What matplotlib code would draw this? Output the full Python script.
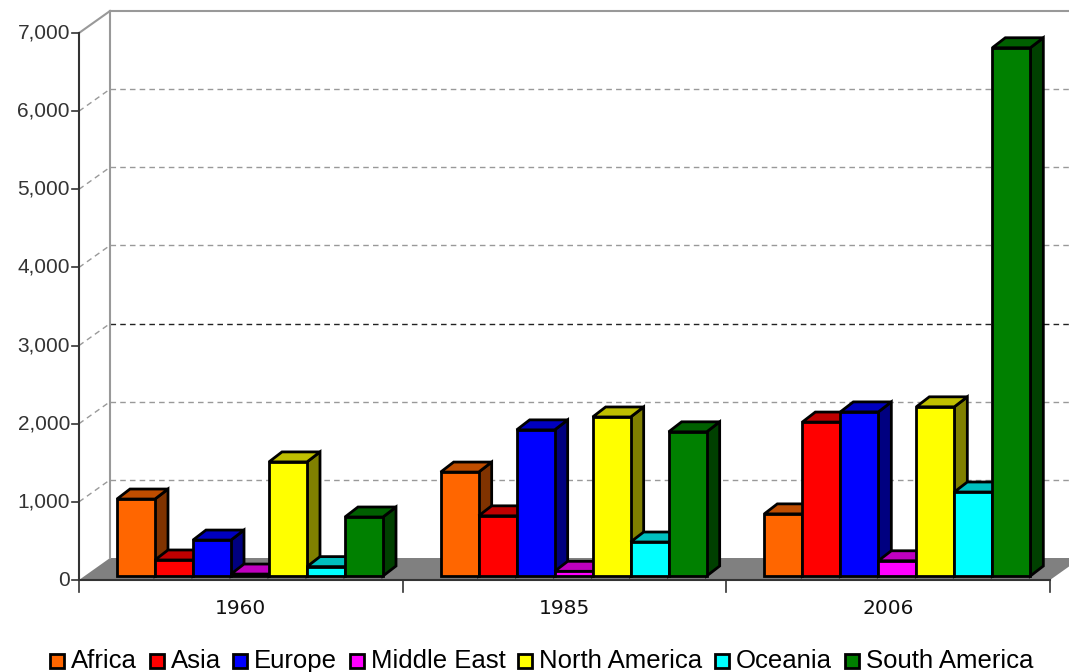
import numpy as np
import matplotlib
matplotlib.use('Agg')
import matplotlib.pyplot as plt
from matplotlib.patches import Polygon, Rectangle
from matplotlib.colors import to_rgb

years = ['1960', '1985', '2006']
regions = ['Africa', 'Asia', 'Europe', 'Middle East', 'North America', 'Oceania', 'South America']
africa = [985, 1330, 795]
asia = [205, 770, 1970]
europe = [460, 1870, 2100]
middle_east = [25, 60, 195]
north_america = [1460, 2035, 2165]
oceania = [120, 435, 1075]
south_america = [755, 1845, 6760]
series = [africa, asia, europe, middle_east, north_america, oceania, south_america]
colors = ['#FF6600', '#FF0000', '#0000FF', '#FF00FF', '#FFFF00', '#00FFFF', '#008000']
yticks = [0, 1000, 2000, 3000, 4000, 5000, 6000, 7000]

W, H = 1069, 672
fig = plt.figure(figsize=(W / 100, H / 100), dpi=100)
# front plane of the chart in pixels
left_px, right_px, bot_px, top_px = 79, 1050, 580, 33
ax = fig.add_axes([left_px / W, 1 - bot_px / H, (right_px - left_px) / W, (bot_px - top_px) / H])
ax.set_xlim(0, len(years))
ax.set_ylim(0, 7000)
ax.axis('off')

sx = (right_px - left_px) / len(years)      # px per group
sy = (bot_px - top_px) / 7000.0             # px per unit


def px_x(p):
    return p / sx


def px_y(p):
    return p / sy


# depth of the wall and of the bars
wdx, wdy = px_x(31), px_y(22)
bdx, bdy = px_x(13), px_y(10)
x_end = len(years)

# floor
ax.add_patch(Polygon([(0, 0), (x_end, 0), (x_end + wdx, wdy), (wdx, wdy)],
                     closed=True, facecolor='#808080', edgecolor='none', zorder=1, clip_on=False))

# gridlines
for t in yticks[1:]:
    c = '#222222' if t == 3000 else '#999999'
    st = (0, (4, 3))
    if t == 7000:
        ax.plot([0, wdx], [t, t + wdy], color='#999999', lw=1.5, clip_on=False, zorder=1)
        ax.plot([wdx, x_end + wdx + 0.2], [t + wdy, t + wdy], color='#999999', lw=1.5, clip_on=False, zorder=1)
    else:
        ax.plot([0, wdx], [t, t + wdy], color='#999999', lw=1.0, ls=st, clip_on=False, zorder=1)
        ax.plot([wdx, x_end + wdx + 0.2], [t + wdy, t + wdy], color=c, lw=1.0, ls=st, clip_on=False, zorder=1)

# back wall left edge
ax.plot([wdx, wdx], [wdy, 7000 + wdy], color='#999999', lw=1.5, clip_on=False, zorder=1)

# front axes
ax.plot([0, 0], [0, 7000], color='#333333', lw=1.5, clip_on=False, zorder=5)
ax.plot([0, x_end], [0, 0], color='#333333', lw=1.5, clip_on=False, zorder=5)
for t in yticks:
    ax.plot([-px_x(7), 0], [t, t], color='#333333', lw=1.2, clip_on=False, zorder=5)
    ax.text(-px_x(9), t, '{:,}'.format(t), ha='right', va='center', fontsize=15,
            family='Liberation Sans', color='#333333')
for g in range(len(years) + 1):
    ax.plot([g, g], [0, -px_y(12)], color='#333333', lw=1.2, clip_on=False, zorder=5)
for g, yr in enumerate(years):
    ax.text(g + 0.5, -px_y(28), yr, ha='center', va='center', fontsize=14.5,
            family='DejaVu Sans', color='#111111')

# bars
bw = px_x(38)
off = px_x(38)
base = px_y(4)
lw = 2.0
z = 10
for g in range(len(years)):
    for i, vals in enumerate(series):
        v = vals[g]
        rgb = np.array(to_rgb(colors[i]))
        x0 = g + off + i * bw
        x1 = x0 + bw
        b = base
        t = base + v
        front = [(x0, b), (x1, b), (x1, t), (x0, t)]
        side = [(x1, b), (x1 + bdx, b + bdy), (x1 + bdx, t + bdy), (x1, t)]
        top = [(x0, t), (x1, t), (x1 + bdx, t + bdy), (x0 + bdx, t + bdy)]
        ax.add_patch(Polygon(side, closed=True, facecolor=rgb * 0.5, edgecolor='black',
                             lw=lw, joinstyle='miter', zorder=z, clip_on=False))
        ax.add_patch(Polygon(top, closed=True, facecolor=rgb * 0.75, edgecolor='black',
                             lw=lw, joinstyle='miter', zorder=z, clip_on=False))
        ax.add_patch(Polygon(front, closed=True, facecolor=rgb, edgecolor='black',
                             lw=lw, joinstyle='miter', zorder=z, clip_on=False))
        z += 1

# legend, laid out by hand so every label sits on one baseline
renderer = fig.canvas.get_renderer()
box = 14          # marker size in px
gap_m = 7         # marker to text
leg_l, leg_r = 50, 1033
base_y = 668      # baseline of the legend text, px from top
texts = []
widths = []
for r in regions:
    tx = fig.text(0, 1 - base_y / H, r, fontsize=18.5, family='Liberation Sans',
                  va='baseline', ha='left', color='black')
    texts.append(tx)
    widths.append(tx.get_window_extent(renderer).width)
gap_e = (leg_r - leg_l - sum(widths) - len(regions) * (box + gap_m)) / (len(regions) - 1)
x = leg_l
for c, tx, w in zip(colors, texts, widths):
    fig.patches.append(Rectangle((x / W, (H - base_y) / H), box / W, box / H,
                                 transform=fig.transFigure, facecolor=c,
                                 edgecolor='black', lw=2.0, figure=fig))
    x += box + gap_m
    tx.set_x(x / W)
    x += w + gap_e

fig.savefig('out.png', dpi=100)
